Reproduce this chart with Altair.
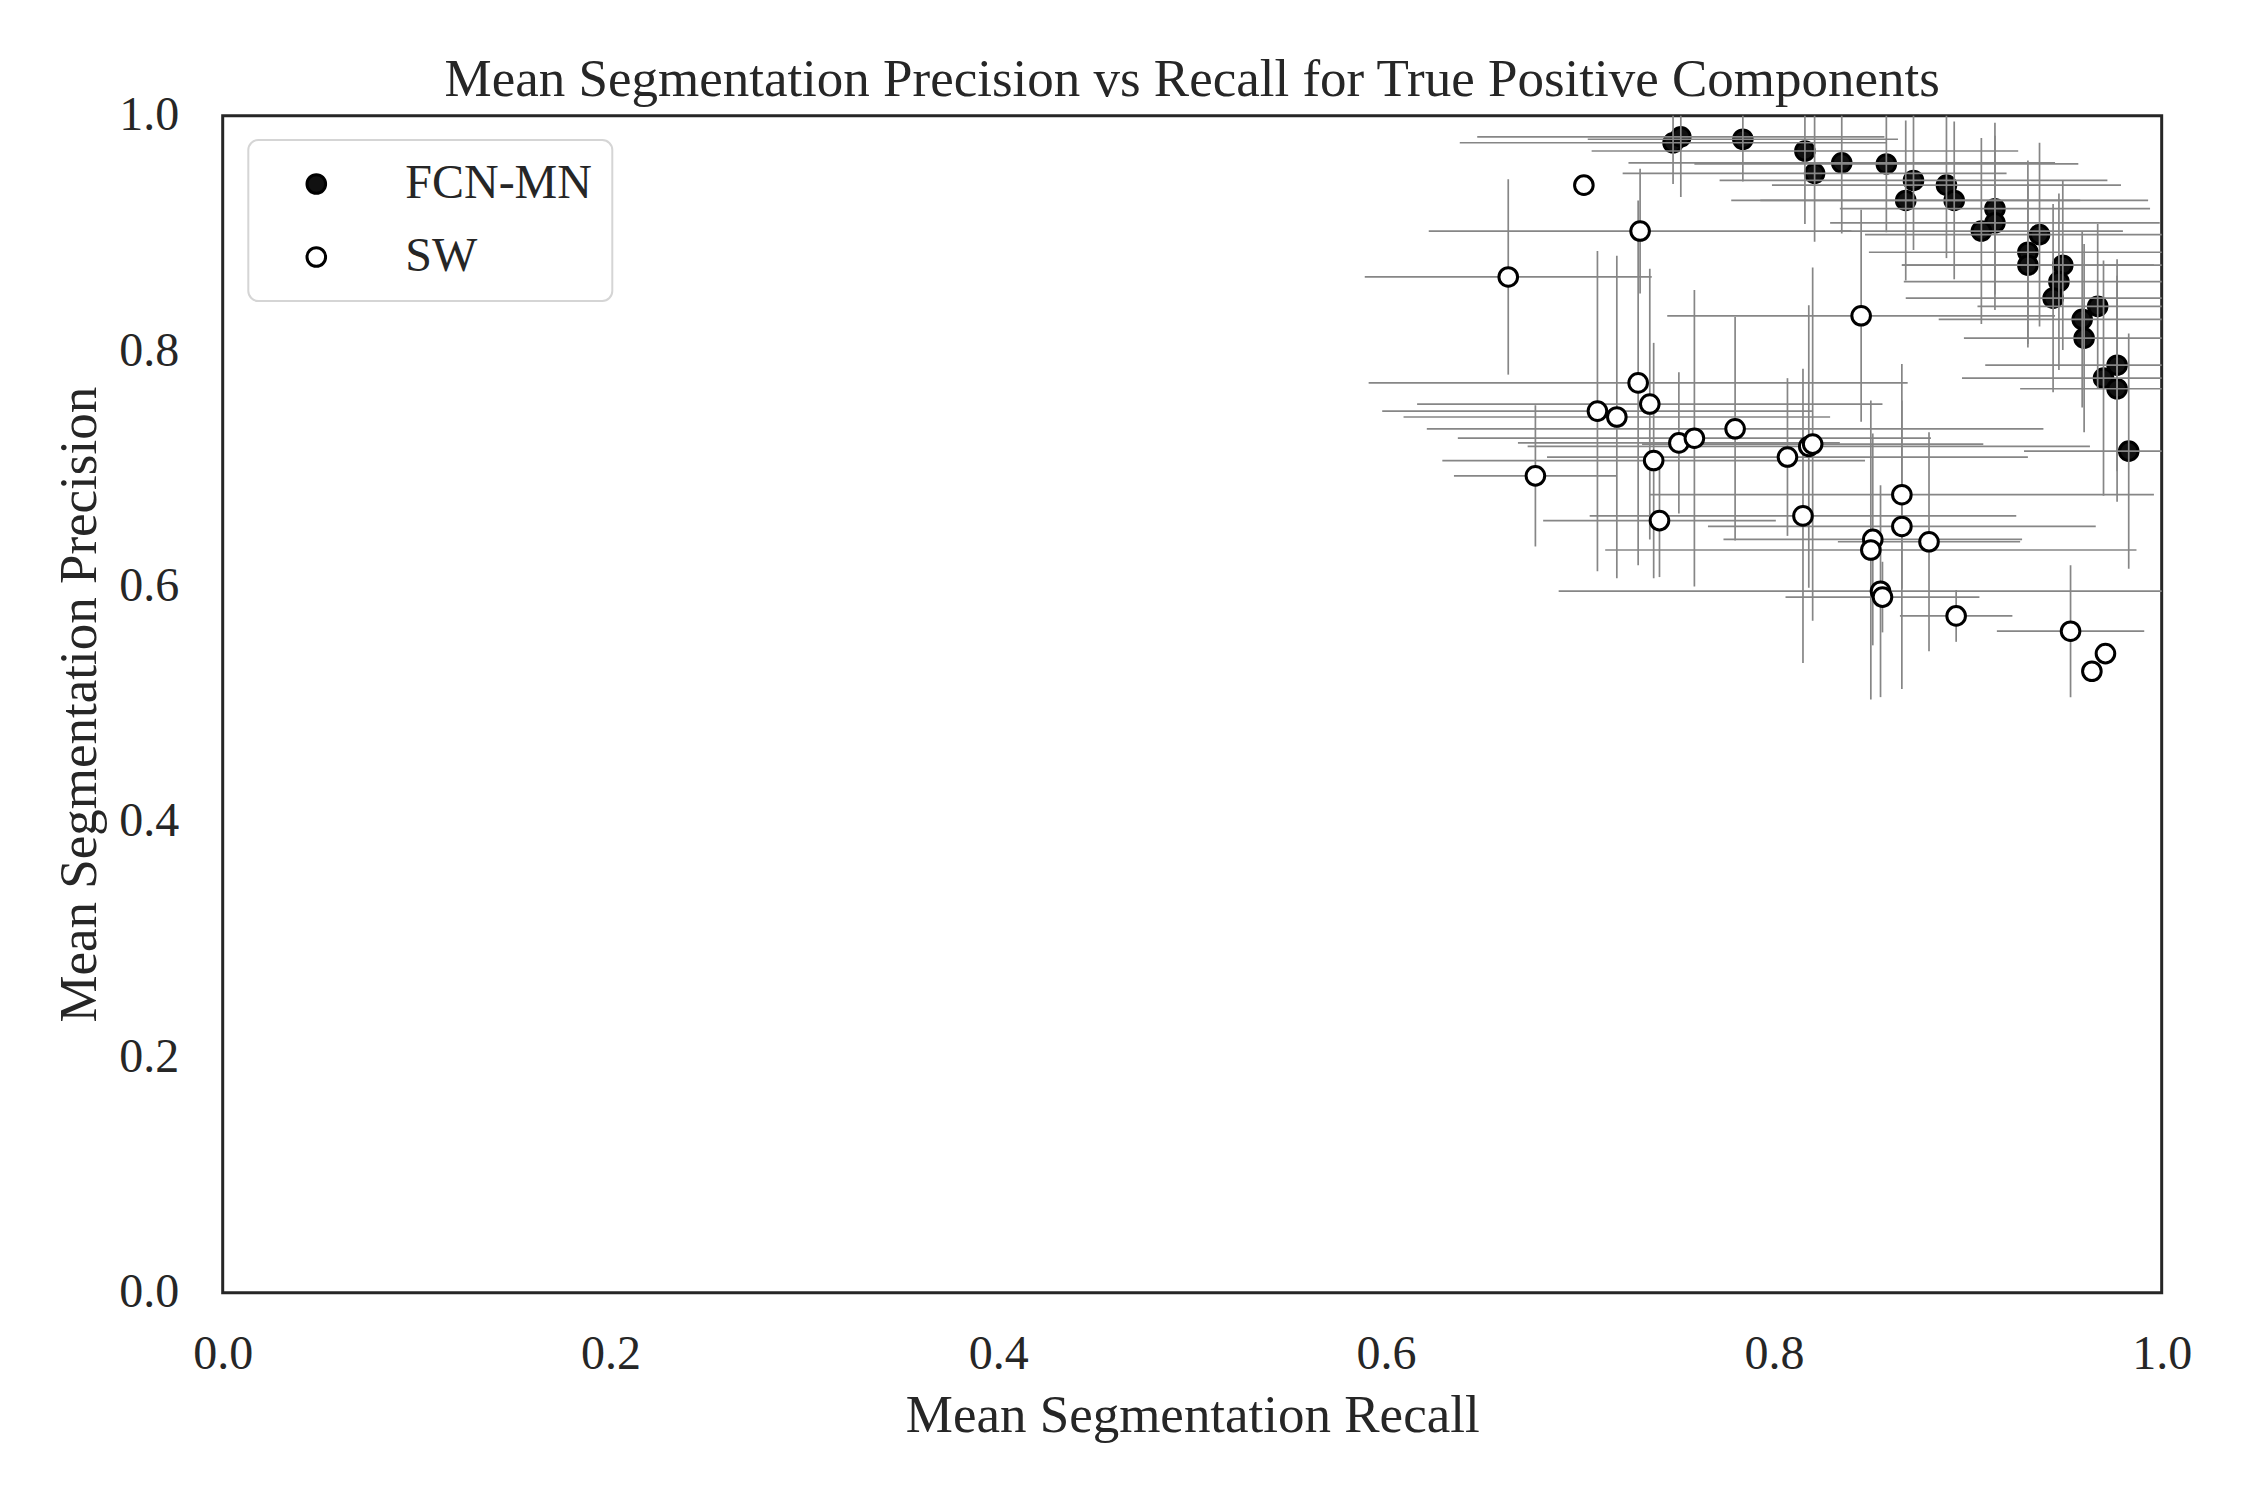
import altair as alt
import pandas as pd

methods = ["FCN-MN", "SW"]

# FCN-MN: mean recall, mean precision and their spreads
fcn_x = [0.748, 0.752, 0.784, 0.816, 0.821, 0.835, 0.858, 0.872, 0.868, 0.889, 0.893, 0.914, 0.914, 0.907,
         0.937, 0.931, 0.931, 0.949, 0.947, 0.944, 0.967, 0.959, 0.960, 0.977, 0.970, 0.977, 0.983]
fcn_y = [0.977, 0.982, 0.980, 0.970, 0.951, 0.960, 0.959, 0.945, 0.928, 0.941, 0.928, 0.921, 0.909, 0.902,
         0.899, 0.884, 0.873, 0.873, 0.859, 0.845, 0.838, 0.827, 0.811, 0.788, 0.777, 0.768, 0.715]
fcn_xerr = [0.110, 0.105, 0.080, 0.110, 0.099, 0.110, 0.099, 0.100, 0.090, 0.090, 0.100, 0.080, 0.085, 0.073,
            0.090, 0.082, 0.065, 0.083, 0.080, 0.076, 0.062, 0.074, 0.062, 0.068, 0.073, 0.050, 0.054]
fcn_yerr = [0.035, 0.051, 0.036, 0.062, 0.058, 0.060, 0.058, 0.059, 0.068, 0.062, 0.067, 0.073, 0.074, 0.079,
            0.078, 0.078, 0.070, 0.072, 0.075, 0.080, 0.070, 0.075, 0.080, 0.090, 0.100, 0.096, 0.100]

# SW
sw_x = [0.702, 0.731, 0.663, 0.845, 0.730, 0.736, 0.709, 0.719, 0.780, 0.751, 0.759, 0.738, 0.807, 0.818, 0.820,
        0.677, 0.866, 0.741, 0.815, 0.866, 0.851, 0.850, 0.880, 0.855, 0.856, 0.894, 0.953, 0.971, 0.964]
sw_y = [0.941, 0.902, 0.863, 0.830, 0.773, 0.755, 0.749, 0.744, 0.734, 0.722, 0.726, 0.707, 0.710, 0.719, 0.721,
        0.694, 0.678, 0.656, 0.660, 0.651, 0.640, 0.631, 0.638, 0.596, 0.591, 0.575, 0.562, 0.543, 0.528]
sw_xerr = [0.000, 0.109, 0.074, 0.100, 0.139, 0.120, 0.111, 0.110, 0.159, 0.083, 0.122, 0.109, 0.124, 0.145, 0.088,
           0.042, 0.130, 0.060, 0.110, 0.100, 0.077, 0.137, 0.047, 0.166, 0.050, 0.029, 0.038, 0.000, 0.000]
sw_yerr = [0.000, 0.053, 0.083, 0.090, 0.155, 0.115, 0.136, 0.137, 0.095, 0.060, 0.126, 0.100, 0.067, 0.120, 0.150,
           0.060, 0.080, 0.048, 0.125, 0.138, 0.090, 0.127, 0.093, 0.090, 0.030, 0.022, 0.056, 0.000, 0.000]

tick_values = [0.0, 0.2, 0.4, 0.6, 0.8, 1.0]


def frame(name, xs, ys, xe, ye):
    df = pd.DataFrame({"x": xs, "y": ys, "xerr": xe, "yerr": ye})
    df["method"] = name
    df["x_lo"] = df["x"] - df["xerr"]
    df["x_hi"] = df["x"] + df["xerr"]
    df["y_lo"] = df["y"] - df["yerr"]
    df["y_hi"] = df["y"] + df["yerr"]
    return df


fcn = frame("FCN-MN", fcn_x, fcn_y, fcn_xerr, fcn_yerr)
sw = frame("SW", sw_x, sw_y, sw_xerr, sw_yerr)

FONT = "Liberation Serif"
TXT = "#262626"
GRAY = "#868686"

xscale = alt.Scale(domain=[0, 1], nice=False, zero=False)
yscale = alt.Scale(domain=[0, 1], nice=False, zero=False)

xaxis = alt.Axis(values=tick_values, format=".1f", grid=False, ticks=False, tickSize=0, domain=False,
                 labelFont=FONT, labelFontSize=48, labelColor=TXT, labelPadding=76,
                 labelBaseline="alphabetic", labelFlush=False, labelOverlap=False,
                 titleFont=FONT, titleFontSize=53, titleFontWeight="normal", titleColor=TXT,
                 titleY=139, titleBaseline="alphabetic")
yaxis = alt.Axis(values=tick_values, format=".1f", grid=False, ticks=False, tickSize=0, domain=False,
                 labelFont=FONT, labelFontSize=48, labelColor=TXT, labelPadding=44,
                 labelFlush=False, labelOverlap=False,
                 titleFont=FONT, titleFontSize=53, titleFontWeight="normal", titleColor=TXT,
                 titleX=-127, titleBaseline="alphabetic")

XT = "Mean Segmentation Recall"
YT = "Mean Segmentation Precision"

fill_scale = alt.Scale(domain=methods, range=["#111111", "#ffffff"])
legend = alt.Legend(title=None, orient="none", legendX=25.6, legendY=24.3, direction="vertical",
                    fillColor="white", strokeColor="#d5d5d5", cornerRadius=10,
                    padding=20, labelFont=FONT, labelFontSize=48, labelColor=TXT, labelLimit=500,
                    symbolSize=346, symbolStrokeWidth=3, symbolStrokeColor="black", symbolType="circle",
                    symbolOffset=24, labelOffset=65, rowPadding=25)


def hbars(df):
    return alt.Chart(df).mark_rule(color=GRAY, strokeWidth=1.7, clip=True).encode(
        x=alt.X("x_lo:Q", scale=xscale, axis=xaxis, title=XT),
        x2="x_hi:Q",
        y=alt.Y("y:Q", scale=yscale, axis=yaxis, title=YT),
    )


def vbars(df):
    return alt.Chart(df).mark_rule(color=GRAY, strokeWidth=1.7, clip=True).encode(
        x=alt.X("x:Q", scale=xscale, axis=xaxis, title=XT),
        y=alt.Y("y_lo:Q", scale=yscale, axis=yaxis, title=YT),
        y2="y_hi:Q",
    )


def pts(df):
    return alt.Chart(df).mark_point(filled=True, size=346, stroke="black", strokeWidth=3, opacity=1,
                                    strokeOpacity=1, fillOpacity=1).encode(
        x=alt.X("x:Q", scale=xscale, axis=xaxis, title=XT),
        y=alt.Y("y:Q", scale=yscale, axis=yaxis, title=YT),
        fill=alt.Fill("method:N", scale=fill_scale, legend=legend),
    )


chart = alt.layer(
    pts(fcn), hbars(fcn), vbars(fcn), hbars(sw), vbars(sw), pts(sw)
).properties(
    width=1939,
    height=1177,
    title=alt.TitleParams(text="Mean Segmentation Precision vs Recall for True Positive Components",
                          font=FONT, fontSize=53, fontWeight="normal", color=TXT, anchor="middle",
                          frame="group", baseline="alphabetic", offset=24, dy=81),
    autosize=alt.AutoSizeParams(type="none"),
    padding={"left": 214.7, "top": 107.7, "right": 70, "bottom": 180},
    background="white",
).configure_view(stroke="#262626", strokeWidth=3).configure_legend(strokeWidth=2)

chart.save("out.html", embed_options={"renderer": "svg", "actions": False})
